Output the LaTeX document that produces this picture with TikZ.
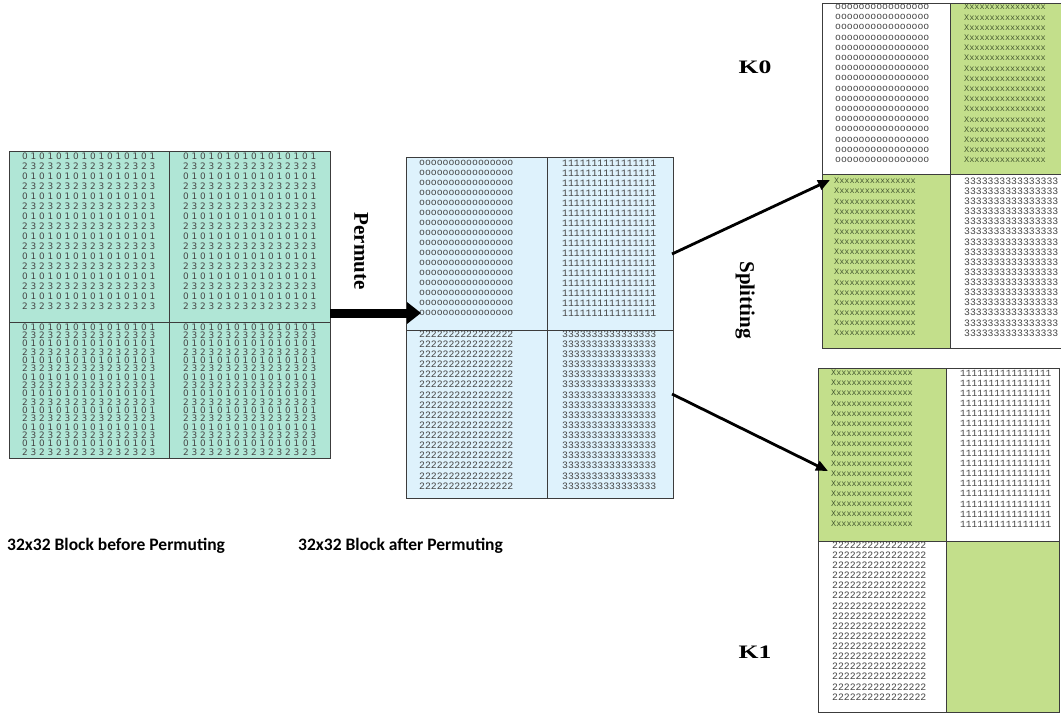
\documentclass[tikz,border=0pt]{standalone}
\usepackage{fontspec}
\usetikzlibrary{arrows.meta}
\newfontfamily\dvs{DejaVu Sans}
\newfontfamily\lmono{Liberation Mono}
\newfontfamily\tserif{Liberation Serif}
\newfontfamily\carl{Carlito}
\definecolor{teal}{RGB}{176,230,214}
\definecolor{lblue}{RGB}{222,242,252}
\definecolor{lgreen}{RGB}{195,223,139}
\definecolor{bord}{RGB}{60,60,60}
\definecolor{txtg}{RGB}{70,70,70}
\definecolor{txtgr}{RGB}{70,90,50}
\newcommand\qrows[7]{\foreach \k in {0,...,15}{\node[#1] (#2\k) at (#3,{#4+\k*#5}) {\ifodd\k\relax #7\else #6\fi};}}
\begin{document}
\begin{tikzpicture}[x=1pt,y=-1pt,
  cellA/.style={inner sep=0pt,anchor=west,text=txtg,font=\dvs\fontsize{8.9}{9}\selectfont},
  cellM/.style={inner sep=0pt,anchor=west,text=txtg,font=\lmono\fontsize{9.8}{10}\selectfont},
  cellN/.style={inner sep=0pt,anchor=west,text=txtg,font=\lmono\fontsize{9.5}{10}\selectfont},
  cellX/.style={inner sep=0pt,anchor=west,text=txtgr,font=\lmono\fontsize{8.5}{10}\selectfont},
  grid/.style={draw=bord,line width=0.9pt},
  lbl/.style={inner sep=0pt,font=\tserif\bfseries\fontsize{21}{22}\selectfont},
  klbl/.style={inner sep=0pt,xscale=1.35,font=\tserif\bfseries\fontsize{19}{20}\selectfont},
  capt/.style={inner sep=0pt,anchor=west,font=\carl\bfseries\fontsize{17.5}{19}\selectfont},
  bigarrow/.style={line width=9pt,-{Triangle[length=14pt,width=21pt]}},
  splitarrow/.style={line width=2.8pt,-{Triangle[length=12pt,width=10pt]}}
]
\useasboundingbox (0,0) rectangle (1061,713);
\fill[white] (0,0) rectangle (1061,713);

% ---- left block (before permuting)
\fill[teal] (9,151) rectangle (330,458);
\draw[grid] (9,151) rectangle (330,458) (169,151) -- (169,458) (9,322) -- (330,322);
\def\ra{0 1 0 1 0 1 0 1 0 1 0 1 0 1 0 1}
\def\rb{2 3 2 3 2 3 2 3 2 3 2 3 2 3 2 3}
\qrows{cellA}{la}{22}{156}{10}{\ra}{\rb}
\qrows{cellA}{lb}{183}{156}{10}{\ra}{\rb}
\qrows{cellA}{lc}{22}{327}{8.33}{\ra}{\rb}
\qrows{cellA}{ld}{183}{327}{8.33}{\ra}{\rb}

% ---- middle block (after permuting)
\fill[lblue] (406,157) rectangle (673,498);
\draw[grid] (406,157) rectangle (673,498) (547,157) -- (547,498) (406,330) -- (673,330);
\def\ro{oooooooooooooooo}
\def\rone{1111111111111111}
\def\rtwo{2222222222222222}
\def\rthree{3333333333333333}
\def\rx{Xxxxxxxxxxxxxxxx}
\qrows{cellM}{ma}{419}{163}{10}{\ro}{\ro}
\qrows{cellM}{mb}{562}{163}{10}{\rone}{\rone}
\qrows{cellM}{mc}{419}{334}{10.13}{\rtwo}{\rtwo}
\qrows{cellM}{md}{562}{334}{10.13}{\rthree}{\rthree}

% ---- top right block (K0)
\fill[lgreen] (950,3) rectangle (1062,174);
\fill[lgreen] (822,174) rectangle (950,348);
\draw[grid] (822,3) rectangle (1062,348) (950,3) -- (950,348) (822,174) -- (1062,174);
\qrows{cellM}{ta}{835}{7}{10.2}{\ro}{\ro}
\qrows{cellX}{tb}{964}{7}{10.2}{\rx}{\rx}
\qrows{cellX}{tc}{834}{181}{10.13}{\rx}{\rx}
\qrows{cellM}{td}{964}{181}{10.13}{\rthree}{\rthree}

% ---- bottom right block (K1)
\fill[lgreen] (818,368) rectangle (946,541);
\fill[lgreen] (946,541) rectangle (1059,712);
\draw[grid] (818,368) rectangle (1059,712) (946,368) -- (946,712) (818,541) -- (1059,541);
\qrows{cellX}{ba}{831}{373}{10.07}{\rx}{\rx}
\qrows{cellN}{bb}{960}{373}{10.07}{\rone}{\rone}
\qrows{cellM}{bc}{832}{545}{10.13}{\rtwo}{\rtwo}

% ---- labels
\node[klbl] (k0) at (755,67) {K0};
\node[klbl] (k1) at (755,652) {K1};
\node[lbl,rotate=-90] (perm) at (361,251) {Permute};
\node[lbl,rotate=-90] (split) at (745,300) {Splitting};
\node[capt] (cap1) at (7,546) {32x32 Block before Permuting};
\node[capt] (cap2) at (298,546) {32x32 Block after Permuting};

% ---- arrows
\coordinate (pS) at (330,313);
\coordinate (pE) at (421,313);
\coordinate (s1S) at (672,254);
\coordinate (s1E) at (830,180);
\coordinate (s2S) at (672,394);
\coordinate (s2E) at (828,471);
\draw[bigarrow] (pS) -- (pE);
\draw[splitarrow] (s1S) -- (s1E);
\draw[splitarrow] (s2S) -- (s2E);
\end{tikzpicture}
\end{document}
